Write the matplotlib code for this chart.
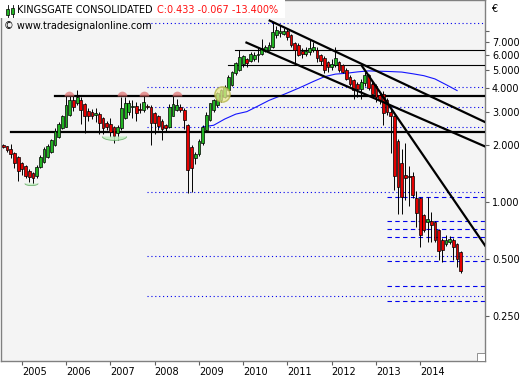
import numpy as np
import pandas as pd
import matplotlib
matplotlib.use("Agg")
import matplotlib.pyplot as plt
from matplotlib.patches import Rectangle
from matplotlib.path import Path

# monthly candles, Aug 2004 .. Dec 2014
start = pd.Timestamp("2004-08-01")
opens = [2.00, 1.97, 1.90, 1.82, 1.74,
         1.62, 1.56, 1.47, 1.42, 1.37, 1.54, 1.63, 1.74, 1.85, 2.00, 2.20, 2.46,
         2.51, 2.89, 3.48, 3.33, 3.47, 3.30, 3.03, 3.00, 2.88, 2.92, 2.78, 2.61,
         2.58, 2.49, 2.31, 2.46, 2.78, 3.01, 3.20, 3.22, 3.10, 3.07, 3.22, 3.20,
         2.95, 2.84, 2.70, 2.56, 2.51, 2.86, 3.07, 3.18, 3.07, 2.55, 1.95, 1.72,
         1.79, 2.05, 2.40, 2.72, 3.07, 3.25, 3.45, 3.60, 3.92, 4.15, 4.80, 5.00,
         5.40, 5.70, 5.60, 5.70, 6.00, 6.05, 6.30, 6.35, 6.60, 7.60, 7.80, 7.75,
         8.00, 7.60, 6.90, 6.80, 6.30, 6.10, 6.20, 6.40, 6.40, 6.00, 5.80, 5.50,
         5.20, 5.30, 5.50, 5.30, 5.00, 4.60, 4.40, 4.20, 3.95, 4.25, 4.70, 4.20,
         4.10, 3.70, 3.75, 3.45, 3.01, 2.85, 2.10, 1.61, 1.39, 1.37, 1.37, 1.05,
         1.05, 0.857, 0.79, 0.80, 0.787, 0.71, 0.632, 0.60, 0.615, 0.632, 0.60, 0.545]
highs = [2.03, 1.99, 2.02, 1.85, 1.76,
         1.64, 1.58, 1.49, 1.44, 1.57, 1.77, 1.95, 2.02, 2.16, 2.46, 2.64, 2.88,
         3.62, 3.66, 3.62, 3.90, 3.60, 3.35, 3.15, 3.10, 3.13, 2.98, 2.82, 2.70,
         2.80, 2.52, 2.55, 3.60, 3.60, 3.45, 3.45, 3.40, 3.35, 3.65, 3.30, 3.25,
         3.00, 2.90, 2.75, 2.60, 3.30, 3.65, 3.50, 3.30, 3.15, 2.60, 2.00, 1.85,
         2.15, 2.55, 3.00, 3.35, 3.50, 3.80, 3.95, 4.15, 4.70, 4.95, 5.50, 6.40,
         6.00, 5.80, 6.20, 6.20, 6.60, 7.30, 6.80, 7.00, 8.90, 8.50, 8.60, 8.30,
         8.20, 7.70, 7.00, 6.90, 6.50, 6.60, 7.20, 7.00, 6.60, 6.10, 5.90, 5.60,
         5.70, 6.60, 5.60, 5.40, 5.10, 4.70, 4.50, 4.30, 4.50, 4.90, 4.75, 4.30,
         4.20, 3.80, 3.85, 3.55, 3.20, 2.90, 2.15, 1.90, 2.05, 1.55, 1.45, 1.15,
         1.06, 0.87, 1.06, 0.89, 0.80, 0.72, 0.65, 0.67, 0.66, 0.645, 0.61, 0.55]
lows = [1.93, 1.84, 1.72, 1.52, 1.29,
        1.40, 1.34, 1.28, 1.25, 1.34, 1.52, 1.61, 1.72, 1.83, 1.98, 2.18, 2.44,
        2.49, 2.85, 3.05, 3.25, 2.60, 2.33, 2.70, 2.76, 2.66, 2.30, 2.30, 2.40,
        2.20, 2.05, 2.12, 2.40, 2.75, 2.90, 2.80, 2.70, 2.95, 3.00, 3.10, 2.00,
        2.30, 2.40, 2.13, 2.35, 2.48, 2.84, 3.05, 3.00, 2.45, 1.12, 1.13, 1.60,
        1.75, 2.00, 2.35, 2.70, 3.00, 3.20, 3.40, 3.55, 3.90, 4.10, 4.70, 4.95,
        5.20, 5.20, 5.50, 5.60, 5.50, 6.00, 6.20, 6.30, 6.55, 7.40, 7.50, 7.60,
        7.20, 6.60, 5.40, 5.90, 5.80, 5.90, 6.00, 6.20, 5.50, 5.30, 4.80, 4.90,
        5.00, 5.20, 4.90, 4.80, 4.40, 4.10, 3.50, 3.60, 3.50, 4.10, 3.90, 3.60,
        3.40, 3.30, 2.55, 2.90, 1.81, 1.16, 0.87, 0.87, 1.03, 0.95, 1.05, 0.74,
        0.58, 0.70, 0.62, 0.62, 0.62, 0.496, 0.486, 0.59, 0.60, 0.496, 0.457, 0.421]
closes = [1.96, 1.88, 1.80, 1.62, 1.46,
          1.49, 1.38, 1.36, 1.34, 1.53, 1.74, 1.91, 1.99, 2.13, 2.39, 2.59, 2.84,
          3.27, 3.48, 3.20, 3.61, 3.07, 2.84, 2.84, 2.84, 2.95, 2.61, 2.48, 2.51,
          2.36, 2.23, 2.51, 3.13, 3.33, 3.33, 3.20, 2.95, 3.07, 3.40, 3.18, 2.61,
          2.61, 2.54, 2.43, 2.46, 3.20, 3.30, 3.27, 3.07, 2.72, 1.48, 1.52, 1.80,
          2.10, 2.51, 2.90, 3.33, 3.47, 3.77, 3.92, 4.08, 4.60, 4.90, 5.42, 5.88,
          5.90, 5.45, 6.05, 6.00, 6.05, 6.50, 6.64, 6.80, 7.95, 8.10, 8.00, 8.00,
          7.50, 6.80, 6.40, 6.00, 6.10, 6.30, 6.50, 6.60, 5.80, 5.60, 5.00, 5.20,
          5.40, 5.75, 5.00, 4.90, 4.50, 4.20, 3.90, 3.95, 4.30, 4.70, 4.00, 3.75,
          3.60, 3.45, 2.95, 3.00, 2.85, 1.37, 1.21, 1.07, 1.35, 1.36, 1.09, 0.875,
          0.67, 0.71, 0.817, 0.76, 0.632, 0.555, 0.56, 0.632, 0.64, 0.583, 0.50, 0.433]

# long moving average (month offset from Jan 2005, value)
ma_months = [49, 52, 55, 58, 61, 64, 67, 70, 73, 76, 79, 82, 85, 88, 91, 94, 97, 100, 103, 106, 109, 112, 115, 118]
ma_values = [2.50, 2.55, 2.75, 2.92, 3.01, 3.22, 3.45, 3.64, 3.85, 4.08, 4.34, 4.60, 4.75, 4.80,
             4.88, 4.94, 4.92, 4.90, 4.87, 4.77, 4.66, 4.48, 4.18, 3.89]

years = [2005, 2006, 2007, 2008, 2009, 2010, 2011, 2012, 2013, 2014]
price_ticks = [0.25, 0.5, 1, 2, 3, 4, 5, 6, 7, 8]
price_labels = ["0.250", "0.500", "1.000", "2.000", "3.000", "4.000", "5.000", "6.000", "7.000", ""]

# support / resistance levels
thick_levels = [(3.64, 8.9), (2.35, -2.9)]          # (price, first month)
thin_levels = [(6.35, 57.9), (5.29, 56.0)]
dotted_levels = [8.89, 4.05, 3.18, 2.49, 1.129, 0.519, 0.320]
dashed_levels = [1.063, 0.797, 0.720, 0.653, 0.488, 0.360, 0.300]
trend_lines = [((67.2, 9.11), (125.6, 2.65)),
               ((60.9, 6.97), (125.6, 1.97)),
               ((92.2, 5.25), (125.6, 0.59))]

# chart markings (month, price)
tops_x, tops_y = [12.9, 27.1, 33.1, 42.0], [3.64, 3.64, 3.64, 3.64]
circle_x, circle_y = [54.4], [3.73]
bowls = [(2.5, 1.265, 9.5), (25.1, 2.24, 17.5)]   # (month, price, width in pt)

months = pd.date_range(start, periods=len(closes), freq="MS")
x = np.array([(d.year - 2005) * 12 + d.month - 1 for d in months])
o = np.array(opens); h = np.array(highs); l = np.array(lows); c = np.array(closes)

fig = plt.figure(figsize=(5.25, 3.8), dpi=100)
ax = fig.add_axes([0.001, 0.05, 0.923, 0.95])
ax.set_facecolor("#f4f4f4")
ax.set_yscale("log")
x_lo, x_hi = -5.78, 125.6
ax.set_xlim(x_lo, x_hi)
ax.set_ylim(0.145, 11.7)

# levels
for p, x0 in thick_levels:
    ax.plot([x0, x_hi], [p, p], color="black", lw=1.6, zorder=3)
for p, x0 in thin_levels:
    ax.plot([x0, x_hi], [p, p], color="black", lw=0.8, zorder=3)
for p in dotted_levels:
    ax.plot([34, x_hi], [p, p], color="#0000ee", lw=0.8, ls=(0, (1, 2.5)), zorder=2)
for p in dashed_levels:
    ax.plot([99.1, x_hi], [p, p], color="#0000ee", lw=0.8, ls=(0, (4, 3)), zorder=2)

# moving average
ax.plot(ma_months, ma_values, color="#1515ff", lw=0.8, zorder=2)

# candles
up = c >= o
ax.vlines(x, l, h, color="black", lw=0.7, zorder=4)
body_lo = np.minimum(o, c)
body_h = np.maximum(np.abs(c - o), 0.004 * o)
ax.bar(x[up], body_h[up], bottom=body_lo[up], width=0.75, color="#22b322",
       edgecolor="black", linewidth=0.5, zorder=5)
ax.bar(x[~up], body_h[~up], bottom=body_lo[~up], width=0.75, color="#e40000",
       edgecolor="black", linewidth=0.5, zorder=5)

# trend lines
for (x0, y0), (x1, y1) in trend_lines:
    ax.plot([x0, x1], [y0, y1], color="black", lw=1.6, zorder=6)

# markings
ax.plot(tops_x, tops_y, ls="none", marker="o", ms=7,
        fillstyle="top", markerfacecolor="#e07070", markerfacecoloralt="none",
        markeredgecolor="none", alpha=0.7, zorder=7)
ax.plot(circle_x, circle_y, ls="none", marker="o", ms=11, markerfacecolor="#e8e890",
        markeredgecolor="#b0b040", alpha=0.75, zorder=7)
t = np.linspace(np.pi, 2 * np.pi, 30)
bowl = Path(np.column_stack([np.cos(t), 0.32 * np.sin(t)]))
for bx, by, bw in bowls:
    ax.plot([bx], [by], ls="none", marker=bowl, ms=bw, markerfacecolor="#c0ecc0",
            markeredgecolor="#60a860", markeredgewidth=0.6, alpha=0.85, zorder=7)

# axes styling
ax.yaxis.tick_right()
ax.yaxis.set_minor_locator(matplotlib.ticker.NullLocator())
ax.set_yticks(price_ticks)
ax.set_yticklabels(price_labels)
ax.set_xticks([(yr - 2005) * 12 for yr in years])
ax.set_xticklabels([str(yr) for yr in years], ha="left")
ax.tick_params(axis="y", direction="out", length=3, width=0.8, color="#606060",
               labelsize=7, pad=2)
ax.tick_params(axis="x", direction="out", length=3, width=0.8, color="#606060",
               labelsize=7, pad=1)
for s in ax.spines.values():
    s.set_color("#808080")
    s.set_linewidth(1.0)

# resize glyph in the corner
ax.add_patch(Rectangle((0.983, 0.0), 0.017, 0.022, transform=ax.transAxes,
                       facecolor="white", edgecolor="#808080", lw=0.6, zorder=8))

# header
W, H = 525, 380
fig.patches.append(Rectangle((0, 1 - 18 / H), 285 / W, 18 / H, transform=fig.transFigure,
                             facecolor="white", edgecolor="none", zorder=1))
for cx, b0, b1 in [(7.5, 9.0, 15.0), (12.5, 8.0, 14.0)]:
    fig.lines.append(plt.Line2D([cx / W, cx / W], [1 - 17 / H, 1 - 5 / H],
                                transform=fig.transFigure, color="black", lw=0.6))
    fig.patches.append(Rectangle(((cx - 1.7) / W, 1 - b1 / H), 3.4 / W, (b1 - b0) / H,
                                 transform=fig.transFigure, facecolor="#22b322",
                                 edgecolor="black", lw=0.5, zorder=3))
fig.text(17 / W, 1 - 10 / H, "KINGSGATE CONSOLIDATED", fontsize=7, color="black",
         va="center", ha="left")
fig.text(157 / W, 1 - 10 / H, "C:0.433 -0.067 -13.400%", fontsize=7, color="#ff1010",
         va="center", ha="left")
fig.text(4 / W, 1 - 26 / H, "\u00a9 www.tradesignalonline.com", fontsize=7, color="black",
         va="center", ha="left")
fig.text(491 / W, 1 - 9 / H, "\u20ac", fontsize=7, color="black", va="center", ha="left")

fig.savefig("out.png", dpi=100, facecolor="white")
